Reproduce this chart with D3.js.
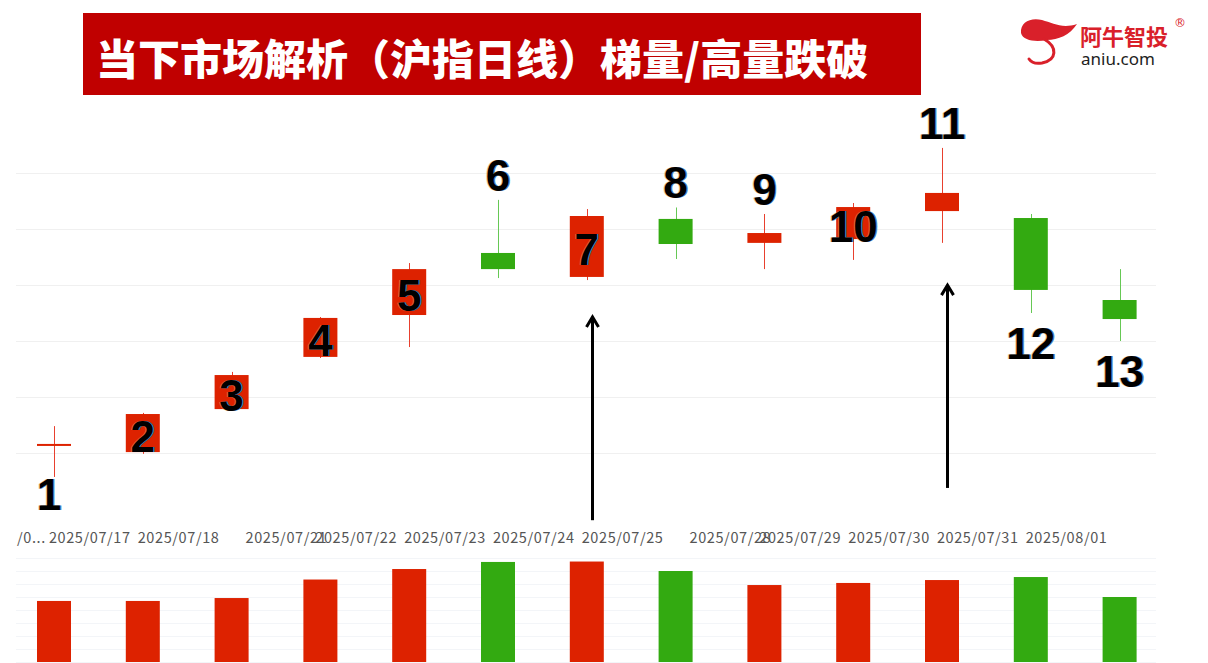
<!DOCTYPE html>
<html><head><meta charset="utf-8">
<script src="https://cdn.jsdelivr.net/npm/d3@7/dist/d3.min.js"></script>
<style>html,body{margin:0;padding:0;background:#fff;}svg{display:block;}</style>
</head><body>
<svg id="chart" width="1208" height="663"></svg>
<script>
// ---------- data ----------
const dates   = ["2025/07/16","2025/07/17","2025/07/18","2025/07/21","2025/07/22","2025/07/23","2025/07/24","2025/07/25","2025/07/28","2025/07/29","2025/07/30","2025/07/31","2025/08/01"];
const opens   = [3503.4, 3500.4, 3519.6, 3542.9, 3561.6, 3589.3, 3578.6, 3604.5, 3593.8, 3595.5, 3608.0, 3604.9, 3568.3];
const highs   = [3512.0, 3517.9, 3536.2, 3560.7, 3584.8, 3613.0, 3608.9, 3609.6, 3606.7, 3611.6, 3636.2, 3606.7, 3582.1];
const lows    = [3489.3, 3499.6, 3519.2, 3542.4, 3547.3, 3578.1, 3577.2, 3586.6, 3582.1, 3586.2, 3593.8, 3562.5, 3550.0];
const closes  = [3503.8, 3517.4, 3534.8, 3560.3, 3582.1, 3582.1, 3605.8, 3593.3, 3598.2, 3609.8, 3616.1, 3572.8, 3559.8];
const volumes = [587, 587, 615, 793, 894, 962, 966, 875, 740, 760, 788, 817, 625];
const marks   = ["1","2","3","4","5","6","7","8","9","10","11","12","13"];
const markPlace = ["under","inside","inside","inside","inside","above","inside","above","above","inside","above","below","below"];
const priceTicks = [3500, 3525, 3550, 3575, 3600, 3625];
const volTicks = [0, 125, 250, 375, 500, 625, 750, 875, 1000];
// arrows: candle index, from price (tail), to price (tip)
const arrows = [{i: 6, from: 3470.0, to: 3561.2}, {i: 10, from: 3484.4, to: 3575.4}];
const titleText = "当下市场解析（沪指日线）梯量/高量跌破";

// ---------- setup ----------
const svg = d3.select("#chart");
const RED = "#dd2200", GREEN = "#33aa11";
const RED_WICK = "#e8402e", GREEN_WICK = "#66c855";

const x = d3.scaleBand().domain(dates).range([9.6, 1164]).padding(0);
const bw = 34;
const cx = d => x(d) + x.bandwidth() / 2;
const y = d3.scaleLinear().domain([3500, 3625]).range([453, 173]);
const yv = d3.scaleLinear().domain([0, 1000]).range([662, 558]);
const plotL = 16, plotR = 1156;

const candles = dates.map((d, i) => ({d, i, o: opens[i], h: highs[i], l: lows[i], c: closes[i], v: volumes[i], up: closes[i] >= opens[i]}));

// grid lines (price)
svg.append("g").selectAll("line").data(priceTicks).join("line")
  .attr("x1", plotL).attr("x2", plotR)
  .attr("y1", d => Math.round(y(d)) + 0.5).attr("y2", d => Math.round(y(d)) + 0.5)
  .attr("stroke", "#f0f0f0").attr("stroke-width", 1);

// grid lines (volume)
svg.append("g").selectAll("line").data(volTicks).join("line")
  .attr("x1", plotL).attr("x2", plotR)
  .attr("y1", d => Math.round(yv(d)) + 0.5).attr("y2", d => Math.round(yv(d)) + 0.5)
  .attr("stroke", "#f3f5f8").attr("stroke-width", 1);

// title banner
svg.append("rect").attr("x", 83).attr("y", 13).attr("width", 838).attr("height", 82).attr("fill", "#c00000");
svg.append("text").attr("x", 96).attr("y", 75)
  .attr("font-family", "'Noto Sans CJK SC', sans-serif").attr("font-weight", 900)
  .attr("font-size", 42).attr("fill", "#fff").text(titleText);

// logo
const logo = svg.append("g");
logo.append("path")
  .attr("d", "M1021,33 C1020,22 1031,17 1042,20 C1053,23 1062,29 1077,24 C1070,35 1058,40 1047,40 C1036,42 1023,41 1021,33 Z")
  .attr("fill", "#d9202a");
logo.append("path")
  .attr("d", "M1044,39 C1058,47 1057,60 1042,63 C1036,64 1031,62 1029,59")
  .attr("fill", "none").attr("stroke", "#d9202a").attr("stroke-width", 3).attr("stroke-linecap", "round");
logo.append("text").attr("x", 1080).attr("y", 45)
  .attr("font-family", "'Noto Sans CJK SC', sans-serif").attr("font-weight", 700)
  .attr("font-size", 22).attr("fill", "#d9202a").text("阿牛智投");
logo.append("text").attr("x", 1174).attr("y", 27)
  .attr("font-family", "'DejaVu Sans', sans-serif").attr("font-size", 12).attr("fill", "#d9202a").text("®");
logo.append("text").attr("x", 1081).attr("y", 65)
  .attr("font-family", "'Noto Sans', sans-serif").attr("font-size", 17).attr("fill", "#222").text("aniu.com");

// wicks
svg.append("g").selectAll("line").data(candles).join("line")
  .attr("x1", d => Math.round(cx(d.d)) + 0.5).attr("x2", d => Math.round(cx(d.d)) + 0.5)
  .attr("y1", d => y(d.h)).attr("y2", d => y(d.l))
  .attr("stroke", d => d.up ? RED_WICK : GREEN_WICK).attr("stroke-width", 1);

// bodies
svg.append("g").selectAll("rect").data(candles).join("rect")
  .attr("x", d => cx(d.d) - bw / 2).attr("width", bw)
  .attr("y", d => { const t = y(Math.max(d.o, d.c)), b = y(Math.min(d.o, d.c)); return b - t < 2 ? (t + b) / 2 - 1 : t; })
  .attr("height", d => Math.max(2, Math.abs(y(d.o) - y(d.c))))
  .attr("fill", d => d.up ? RED : GREEN);

// volume bars
svg.append("g").selectAll("rect").data(candles).join("rect")
  .attr("x", d => cx(d.d) - bw / 2).attr("width", bw)
  .attr("y", d => yv(d.v)).attr("height", d => yv(0) - yv(d.v))
  .attr("fill", d => d.up ? RED : GREEN);

// date labels
const dayNum = s => new Date(s.replace(/\//g, "-") + "T00:00:00Z").getTime() / 86400000;
svg.append("g").selectAll("text").data(candles).join("text")
  .attr("x", d => d.i === 0 ? plotL + 1 : cx(d.d) - 53 + ((dayNum(d.d) - dayNum(dates[d.i - 1])) > 1 ? 19 : 0))
  .attr("y", 543)
  .attr("text-anchor", d => d.i === 0 ? "start" : "middle")
  .attr("font-family", "'Noto Sans CJK SC', sans-serif").attr("font-size", 14.5)
  .attr("letter-spacing", 0.6).attr("fill", "#555")
  .text(d => d.i === 0 ? "/" + d.d.split("/")[1].slice(0, 1) + "..." : d.d);

// arrows
const ag = svg.append("g").attr("stroke", "#000").attr("stroke-width", 3).attr("fill", "none");
arrows.forEach(a => {
  const ax = Math.round(cx(dates[a.i])) + 5.5;
  const yt = y(a.to), yb = y(a.from);
  ag.append("line").attr("x1", ax).attr("x2", ax).attr("y1", yb).attr("y2", yt + 1);
  ag.append("path").attr("d", `M${ax - 6},${yt + 11} L${ax},${yt + 1} L${ax + 6},${yt + 11}`).attr("stroke-linejoin", "miter");
});

// number marks
const mg = svg.append("g");
const markY = d => {
  const place = markPlace[d.i];
  if (place === "above") return y(d.h) - 9;
  if (place === "below") return y(d.l) + 46;
  if (place === "under") return y(d.l) + 33;
  return (y(d.o) + y(d.c)) / 2 + 19;
};
const markX = d => cx(d.d) - (markPlace[d.i] === "under" ? 5 : 0);
const markStyle = sel => sel.attr("text-anchor", "middle")
  .attr("font-family", "'Liberation Sans', Arial, sans-serif").attr("font-weight", 700).attr("font-size", 44);
mg.selectAll("text.sh").data(candles).join("text").attr("class", "sh").call(markStyle)
  .attr("x", d => markX(d) + 1.2).attr("y", markY).attr("fill", "#4f86c6").text(d => marks[d.i]);
mg.selectAll("text.sh2").data(candles).join("text").attr("class", "sh2").call(markStyle)
  .attr("x", d => markX(d) - 1).attr("y", markY).attr("fill", "#d89a55").attr("opacity", 0.6).text(d => marks[d.i]);
mg.selectAll("text.mk").data(candles).join("text").attr("class", "mk").call(markStyle)
  .attr("x", markX).attr("y", markY).attr("fill", "#000").text(d => marks[d.i]);
</script>
</body></html>
